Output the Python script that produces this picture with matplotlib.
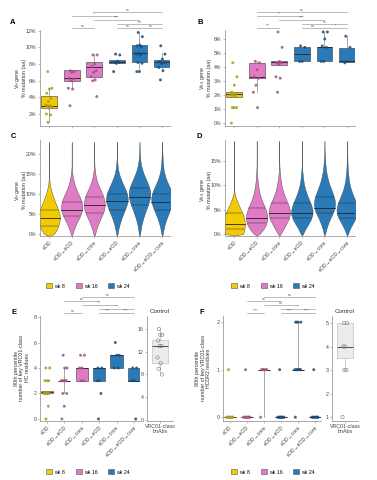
import matplotlib
matplotlib.use('Agg')
import matplotlib.pyplot as plt
import numpy as np
from matplotlib.patches import Patch

plt.rcParams['font.family'] = ['Liberation Sans', 'DejaVu Sans']
plt.rcParams['mathtext.default'] = 'regular'

W, H = 377, 480
fig = plt.figure(figsize=(W / 100, H / 100), dpi=100)

# ---------------- data ----------------
categories = ["eOD", "eOD→eOD", "eOD→core", "eOD→eOD", "eOD→core", "eOD→eOD→core"]
group_week = ["wk 8", "wk 16", "wk 16", "wk 24", "wk 24", "wk 24"]
legend_weeks = ["wk 8", "wk 16", "wk 24"]
week_colors = {"wk 8": "#F2CB05", "wk 16": "#E07BC6", "wk 24": "#2A7AB8"}
point_colors = {"wk 8": "#A99B22", "wk 16": "#A64F82", "wk 24": "#1D4C78"}

# Panel A: VH % mutation (aa) per mAb
A_points = [
    [7.1, 5.1, 5.0, 4.5, 3.9, 3.5, 3.1, 3.0, 3.0, 2.9, 2.7, 2.0, 1.9, 1.0],
    [7.2, 7.1, 7.0, 6.3, 6.2, 6.0, 5.1, 5.0, 3.0],
    [9.1, 9.1, 8.0, 7.7, 7.2, 7.0, 6.5, 6.1, 6.0, 4.1],
    [9.2, 9.1, 8.3, 8.2, 8.2, 8.1, 7.1],
    [11.8, 11.3, 10.3, 10.2, 10.1, 9.3, 9.2, 9.1, 8.2, 8.1, 7.1, 7.1],
    [10.2, 9.2, 8.6, 8.3, 8.2, 8.1, 7.6, 7.2, 6.1],
]
A_q1 = [2.7, 6.0, 6.5, 8.1, 8.2, 7.7]
A_med = [3.0, 6.3, 7.7, 8.2, 9.3, 8.2]
A_q3 = [4.2, 7.3, 8.2, 8.5, 10.3, 8.5]
A_wlo = [1.0, 5.1, 6.1, 8.0, 7.1, 7.3]
A_whi = [5.1, 7.2, 9.2, 8.6, 11.8, 9.3]

# Panel B: VK/L % mutation (aa)
B_points = [
    [4.3, 3.3, 2.7, 2.2, 2.1, 2.0, 2.0, 1.9, 1.1, 1.1, 1.1, 0.0],
    [4.4, 4.3, 3.8, 3.3, 3.2, 2.7, 2.2, 1.1],
    [6.5, 5.4, 4.4, 4.3, 4.3, 4.2, 3.3, 3.2, 2.2],
    [5.5, 5.4, 4.4, 4.4],
    [6.5, 6.5, 6.0, 5.5, 5.4, 4.4, 4.4],
    [6.2, 5.4, 4.4, 4.3],
]
B_q1 = [1.85, 3.25, 4.15, 4.4, 4.4, 4.35]
B_med = [2.05, 3.3, 4.33, 4.9, 5.4, 4.4]
B_q3 = [2.2, 4.3, 4.4, 5.45, 5.45, 5.35]
B_wlo = [1.85, 2.2, 4.15, 4.4, 4.4, 4.35]
B_whi = [2.2, 4.4, 4.4, 5.45, 6.5, 6.2]

# Panel C: violin outlines (half-widths) of VH % mutation
C_levels = [-0.5] + list(range(0, 24))
C_widths = [
    [0, .22, .33, .41, .46, .48, .46, .41, .34, .27, .20, .14, .09, .05, .025, .01, 0, 0, 0, 0, 0, 0, 0, 0, 0],
    [0, .04, .09, .16, .24, .33, .41, .46, .47, .44, .38, .30, .22, .15, .10, .06, .035, .015, 0, 0, 0, 0, 0, 0, 0],
    [0, .04, .08, .14, .21, .29, .37, .43, .46, .46, .42, .36, .28, .20, .13, .08, .05, .025, .01, 0, 0, 0, 0, 0, 0],
    [0, .03, .06, .10, .15, .21, .28, .35, .42, .47, .48, .45, .39, .31, .23, .16, .10, .06, .035, .02, .008, 0, 0, 0, 0],
    [0, .03, .05, .08, .12, .17, .23, .29, .36, .42, .46, .48, .46, .41, .34, .26, .19, .13, .08, .05, .03, .02, .01, .003, 0],
    [0, .03, .06, .10, .15, .21, .28, .35, .42, .47, .48, .45, .39, .31, .23, .16, .11, .07, .05, .035, .025, .017, .01, .005, 0],
]
C_q1 = [2.0, 4.6, 5.2, 6.1, 7.2, 6.1]
C_med = [4.0, 6.1, 7.2, 8.2, 9.2, 8.1]
C_q3 = [6.0, 8.0, 9.2, 10.0, 11.4, 10.1]

# Panel D: violin outlines (half-widths) of VK/L % mutation
D_levels = [-0.3] + list(range(0, 20))
D_widths = [
    [0, .40, .46, .48, .46, .40, .30, .20, .11, .04, 0, 0, 0, 0, 0, 0, 0, 0, 0, 0, 0],
    [0, .12, .30, .42, .47, .46, .40, .31, .22, .15, .10, .065, .04, .025, .012, .004, 0, 0, 0, 0, 0],
    [0, .06, .18, .30, .41, .47, .46, .40, .31, .22, .15, .10, .065, .04, .02, .006, 0, 0, 0, 0, 0],
    [0, .05, .15, .28, .40, .47, .47, .41, .32, .23, .16, .10, .065, .04, .02, .006, 0, 0, 0, 0, 0],
    [0, .03, .08, .15, .24, .34, .43, .47, .45, .39, .31, .23, .16, .11, .07, .045, .03, .018, .008, 0, 0],
    [0, .04, .12, .23, .35, .45, .47, .43, .35, .26, .18, .12, .08, .055, .035, .024, .016, .01, .006, .002, 0],
]
D_q1 = [1.1, 2.2, 3.2, 3.2, 4.3, 3.2]
D_med = [2.1, 3.3, 4.3, 4.3, 5.4, 4.3]
D_q3 = [4.3, 5.4, 6.4, 6.4, 7.5, 6.4]

# Panel E: number of key VRC01-class HC residues
E_points = [
    [4, 4, 3, 3, 3, 2, 2, 2, 2, 2, 2, 2, 1, 0],
    [5, 4, 4, 3, 3, 3, 3, 3, 2, 2, 1, 0],
    [5, 5, 4, 4, 3, 3],
    [4, 4, 3, 3, 2, 0],
    [6, 5, 5, 4, 4],
    [4, 4, 3, 3, 0],
]
E_q1 = [2.0, 3.0, 3.0, 3.0, 4.0, 3.0]
E_med = [2.1, 3.0, 4.0, 4.0, 5.0, 3.0]
E_q3 = [2.2, 3.0, 4.0, 4.0, 5.0, 4.0]
E_wlo = [2.0, 2.0, 3.0, 3.0, 4.0, 3.0]
E_whi = [2.2, 4.0, 4.0, 4.0, 5.0, 4.0]
E_ctrl_points = [16, 15, 15, 14, 13, 13, 11, 10, 9, 8]
E_ctrl_box = dict(q1=10.0, med=13.0, q3=14.0, whislo=8.0, whishi=16.0)

# Panel F: number of key VRC01-class HCDR2 residues
F_points = [
    [1, 0, 0, 0, 0, 0, 0, 0, 0, 0, 0],
    [1, 0, 0, 0, 0, 0, 0, 0, 0, 0],
    [1, 1, 1, 1, 1, 1, 0],
    [1, 0, 0, 0, 0, 0, 0, 0, 0, 0, 0],
    [2, 2, 2, 2, 1, 1, 1, 1, 1, 1, 1, 0],
    [1, 0, 0, 0, 0, 0, 0, 0, 0, 0],
]
F_q1 = [0, 0, 1, 0, 1, 0]
F_med = [0, 0, 1, 0, 1, 0]
F_q3 = [0, 0, 1, 0, 1, 0]
F_wlo = [0, 0, 0, 0, 1, 0]
F_whi = [0, 0, 1, 0, 2, 0]
F_ctrl_points = [5, 5, 4, 4, 3, 3, 1]
F_ctrl_box = dict(q1=3.5, med=4.0, q3=5.0, whislo=3.0, whishi=5.0)

# significance brackets: (from, to, label)
A_sig = [(2, 5, "ns"), (1, 3, "**"), (2, 4, "****"), (3, 5, "ns"), (1, 2, "ns"), (3, 4, "ns"), (4, 5, "ns")]
B_sig = [(1, 5, "ns"), (1, 3, "**"), (2, 4, "****"), (3, 5, "ns"), (1, 2, "***"), (3, 4, "ns"), (4, 5, "*")]
E_sig = [(2, 5, "ns"), (1, 3, "ns"), (2, 4, "***"), (3, 5, "*"), (1, 2, "ns"), (3, 4, "****"), (4, 5, "****")]
F_sig = [(2, 5, "ns"), (1, 3, "ns"), (2, 4, "ns"), (3, 5, "*"), (1, 2, "****"), (3, 4, "****"), (4, 5, "****")]

# ---------------- helpers ----------------
AX_GRAY = "#8a8a8a"
FS = 3.8


def add_ax(x0, y0, x1, y1):
    return fig.add_axes([x0 / W, 1 - y1 / H, (x1 - x0) / W, (y1 - y0) / H])


def style(ax):
    for s in ["top", "right"]:
        ax.spines[s].set_visible(False)
    for s in ["left", "bottom"]:
        ax.spines[s].set_color(AX_GRAY)
        ax.spines[s].set_linewidth(0.5)
    ax.tick_params(length=1.5, width=0.4, color=AX_GRAY, labelsize=FS, pad=1, labelcolor="#444444")
    ax.set_facecolor("none")


def jitter(n, width):
    k = np.arange(n)
    return ((k * 0.6180339 + 0.31) % 1.0 - 0.5) * 2 * width


def boxes(ax, q1, med, q3, wlo, whi, points, jw=0.15, ms=4.5):
    for i in range(len(q1)):
        wk = group_week[i]
        st = [dict(q1=q1[i], med=med[i], q3=q3[i], whislo=wlo[i], whishi=whi[i])]
        ax.bxp(st, positions=[i], widths=0.7, patch_artist=True, showfliers=False, showcaps=False,
               boxprops=dict(facecolor=week_colors[wk], edgecolor="#3a3a3a", linewidth=0.4),
               medianprops=dict(color="#222222", linewidth=0.6),
               whiskerprops=dict(color="#666666", linewidth=0.4))
        v = np.array(points[i], dtype=float)
        ax.scatter(i + jitter(len(v), jw), v, s=ms, color=point_colors[wk], alpha=0.85,
                   edgecolors="none", zorder=3)


def violins(ax, levels, widths, q1, med, q3):
    yl = np.array(levels, dtype=float)
    for i, w in enumerate(widths):
        w = np.array(w, dtype=float)
        wk = group_week[i]
        ax.fill_betweenx(yl, i - w, i + w, facecolor=week_colors[wk], edgecolor="#444444", linewidth=0.3)
        for q, lw in [(q1[i], 0.3), (q3[i], 0.3), (med[i], 0.6)]:
            hw = np.interp(q, yl, w)
            ax.plot([i - hw, i + hw], [q, q], color="#222222", lw=lw)


def brackets(ax, sig, levels_px, ax_bottom, ax_h):
    tr = ax.get_xaxis_transform()
    for (a, b, lab), ypx in zip(sig, levels_px):
        yf = (ax_bottom - ypx) / ax_h
        ax.plot([a, b], [yf, yf], color="#888888", lw=0.4, transform=tr, clip_on=False)
        ax.text((a + b) / 2, yf + 0.004, lab, transform=tr, ha="center", va="bottom",
                fontsize=2.6, color="#555555", clip_on=False)


def cat_axis(ax, labels=True):
    ax.set_xlim(-0.4, 5.35)
    ax.set_xticks(range(len(categories)))
    if labels:
        ax.set_xticklabels(categories, rotation=45, ha="right", rotation_mode="anchor", fontsize=3.7)
    else:
        ax.set_xticklabels([])


def legend_at(xc, yc):
    handles = [Patch(facecolor=week_colors[w], edgecolor="#555555", linewidth=0.4) for w in legend_weeks]
    fig.legend(handles, legend_weeks, loc="center", bbox_to_anchor=(xc / W, 1 - yc / H), ncol=3,
               frameon=False, fontsize=FS, handlelength=1.1, handleheight=1.1, columnspacing=2.0,
               handletextpad=0.4, borderpad=0)


def ylab(x, y, txt):
    fig.text(x / W, 1 - y / H, txt, rotation=90, ha="center", va="center", fontsize=FS,
             linespacing=1.05, color="#333333")


def letter(x, y, t):
    fig.text(x / W, 1 - y / H, t, fontsize=5.5, fontweight="bold", ha="center", va="center")


pct = lambda vals: [f"{v}%" for v in vals]

# ---------------- Panel A ----------------
axA = add_ax(40, 30, 170, 126)
style(axA)
boxes(axA, A_q1, A_med, A_q3, A_wlo, A_whi, A_points)
cat_axis(axA, labels=False)
axA.set_ylim(0.56, 12.1)
axA.set_yticks([2, 4, 6, 8, 10, 12])
axA.set_yticklabels(pct([2, 4, 6, 8, 10, 12]))
brackets(axA, A_sig, [12.3, 16.0, 19.7, 24.0, 28.3, 28.3, 28.3], 126, 96)
ylab(20, 78, "V$_H$ gene\n% mutation (aa)")
letter(13, 23, "A")

# ---------------- Panel B ----------------
axB = add_ax(225, 30, 355, 126)
style(axB)
boxes(axB, B_q1, B_med, B_q3, B_wlo, B_whi, B_points)
cat_axis(axB, labels=False)
axB.set_ylim(-0.21, 6.64)
axB.set_yticks(range(0, 7))
axB.set_yticklabels(pct(range(0, 7)))
brackets(axB, B_sig, [12.3, 16.0, 19.7, 24.0, 28.3, 28.3, 28.3], 126, 96)
ylab(205, 78, "V$_{K/L}$ gene\n% mutation (aa)")
letter(200, 23, "B")

# ---------------- Panel C ----------------
axC = add_ax(40, 140, 170, 236)
style(axC)
violins(axC, C_levels, C_widths, C_q1, C_med, C_q3)
cat_axis(axC)
axC.set_ylim(-0.5, 23.5)
axC.set_yticks([0, 5, 10, 15, 20])
axC.set_yticklabels(pct([0, 5, 10, 15, 20]))
ylab(20, 190, "V$_H$ gene\n% mutation (aa)")
letter(13, 136, "C")
legend_at(88, 286)

# ---------------- Panel D ----------------
axD = add_ax(225, 140, 355, 236)
style(axD)
violins(axD, D_levels, D_widths, D_q1, D_med, D_q3)
cat_axis(axD)
axD.set_ylim(-0.4, 19.2)
axD.set_yticks([0, 5, 10, 15])
axD.set_yticklabels(pct([0, 5, 10, 15]))
ylab(205, 190, "V$_{K/L}$ gene\n% mutation (aa)")
letter(199, 136, "D")
legend_at(273, 286)

# ---------------- Panel E ----------------
axE = add_ax(40, 316, 140, 421)
style(axE)
boxes(axE, E_q1, E_med, E_q3, E_wlo, E_whi, E_points, jw=0.18)
cat_axis(axE)
axE.set_ylim(-0.16, 8.08)
axE.set_yticks([0, 2, 4, 6, 8])
brackets(axE, E_sig, [297, 301, 305, 309, 313, 313, 313], 421, 105)
ylab(22, 368, "90th percentile\nnumber of key VRC01-class\nHC residues")
letter(14, 313, "E")

axEc = add_ax(147, 316, 173, 421)
style(axEc)
axEc.bxp([E_ctrl_box], positions=[0], widths=0.7, patch_artist=True, showfliers=False, showcaps=False,
         boxprops=dict(facecolor="#ececec", edgecolor="#b5b5b5", linewidth=0.4),
         medianprops=dict(color="#333333", linewidth=0.6),
         whiskerprops=dict(color="#aaaaaa", linewidth=0.4))
axEc.scatter(jitter(len(E_ctrl_points), 0.12), E_ctrl_points, s=6, facecolors="none",
             edgecolors="#777777", linewidths=0.4, zorder=3)
axEc.set_xlim(-0.6, 0.6)
axEc.set_ylim(-0.2, 18.3)
axEc.set_yticks([0, 4, 8, 12, 16])
axEc.set_xticks([0])
axEc.set_xticklabels(["VRC01-class\nbnAbs"], fontsize=FS, linespacing=1.0)
axEc.set_title("Control", fontsize=4.5, pad=2, color="#333333")

# ---------------- Panel F ----------------
axF = add_ax(223, 316, 321, 421)
style(axF)
boxes(axF, F_q1, F_med, F_q3, F_wlo, F_whi, F_points, jw=0.2)
cat_axis(axF)
axF.set_ylim(-0.08, 2.13)
axF.set_yticks([0, 1, 2])
brackets(axF, F_sig, [297, 301, 305, 309, 313, 313, 313], 421, 105)
ylab(203, 368, "90th percentile\nnumber of key VRC01-class\nHCDR2 residues")
letter(202, 313, "F")

axFc = add_ax(332, 316, 358, 421)
style(axFc)
axFc.bxp([F_ctrl_box], positions=[0], widths=0.7, patch_artist=True, showfliers=False, showcaps=False,
         boxprops=dict(facecolor="#ececec", edgecolor="#b5b5b5", linewidth=0.4),
         medianprops=dict(color="#333333", linewidth=0.6),
         whiskerprops=dict(color="#aaaaaa", linewidth=0.4))
axFc.scatter(jitter(len(F_ctrl_points), 0.12), F_ctrl_points, s=6, facecolors="none",
             edgecolors="#777777", linewidths=0.4, zorder=3)
axFc.set_xlim(-0.6, 0.6)
axFc.set_ylim(0.83, 5.3)
axFc.set_yticks([1, 2, 3, 4, 5])
axFc.set_xticks([0])
axFc.set_xticklabels(["VRC01-class\nbnAbs"], fontsize=FS, linespacing=1.0)
axFc.set_title("Control", fontsize=4.5, pad=2, color="#333333")

legend_at(88, 472)
legend_at(273, 472)

fig.savefig("out.png", dpi=100, facecolor="white")
